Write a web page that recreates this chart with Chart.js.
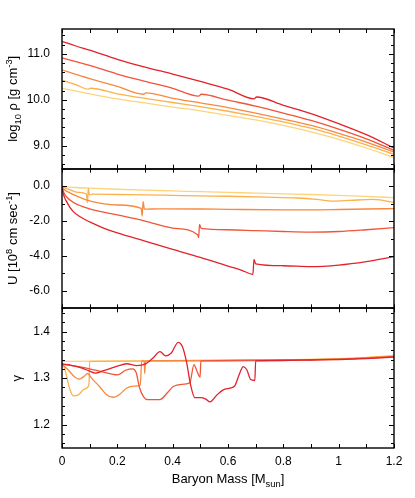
<!DOCTYPE html>
<html>
<head>
<meta charset="utf-8">
<script src="https://cdn.jsdelivr.net/npm/chart.js@4/dist/chart.umd.min.js"></script>
<style>
  html, body { margin: 0; padding: 0; background: #fff; }
  canvas { display: block; }
</style>
</head>
<body>
<canvas id="chart" width="415" height="498"></canvas>
<script>
// [baryon mass, value] pairs, one array per run
// log10 density
const rhoA = [[0,11.27],[0.05,11.17],[0.1,11.08],[0.2,10.88],[0.3,10.71],[0.4,10.56],[0.5,10.40],[0.6,10.23],[0.695,10.02],[0.703,10.06],[0.8,9.88],[0.9,9.70],[1.0,9.48],[1.1,9.24],[1.2,8.95]];
const rhoB = [[0,10.91],[0.05,10.83],[0.1,10.75],[0.2,10.56],[0.3,10.40],[0.4,10.25],[0.495,10.08],[0.503,10.12],[0.6,9.99],[0.7,9.86],[0.8,9.71],[0.9,9.55],[1.0,9.36],[1.1,9.15],[1.2,8.90]];
const rhoC = [[0,10.65],[0.05,10.55],[0.1,10.46],[0.2,10.29],[0.295,10.12],[0.303,10.15],[0.4,10.03],[0.5,9.93],[0.6,9.83],[0.7,9.71],[0.8,9.58],[0.9,9.44],[1.0,9.27],[1.1,9.08],[1.2,8.86]];
const rhoD = [[0,10.43],[0.05,10.33],[0.095,10.23],[0.103,10.25],[0.2,10.13],[0.3,10.03],[0.4,9.94],[0.5,9.85],[0.6,9.75],[0.7,9.64],[0.8,9.52],[0.9,9.38],[1.0,9.21],[1.1,9.02],[1.2,8.81]];
const rhoE = [[0,10.25],[0.1,10.13],[0.2,10.02],[0.3,9.93],[0.4,9.84],[0.5,9.76],[0.6,9.66],[0.7,9.56],[0.8,9.44],[0.9,9.30],[1.0,9.14],[1.1,8.95],[1.2,8.74]];

// velocity, 10^8 cm/s
const velA = [[0,0],[0.004,-0.4],[0.017,-0.9],[0.04,-1.45],[0.07,-1.8],[0.1,-2.05],[0.15,-2.4],[0.2,-2.68],[0.3,-3.15],[0.4,-3.62],[0.5,-4.08],[0.6,-4.58],[0.65,-4.82],[0.69,-5.05],[0.694,-4.2],[0.7,-4.45],[0.8,-4.56],[0.9,-4.61],[1.0,-4.52],[1.1,-4.32],[1.2,-4.04]];
const velB = [[0,0],[0.005,-0.32],[0.029,-0.8],[0.06,-1.08],[0.1,-1.3],[0.2,-1.65],[0.3,-2.0],[0.4,-2.4],[0.49,-2.78],[0.494,-2.95],[0.497,-2.19],[0.503,-2.42],[0.6,-2.5],[0.7,-2.55],[0.8,-2.6],[0.9,-2.63],[1.0,-2.6],[1.1,-2.5],[1.2,-2.38]];
const velC = [[0,0],[0.005,-0.15],[0.03,-0.4],[0.06,-0.62],[0.1,-0.85],[0.2,-1.08],[0.286,-1.27],[0.29,-1.71],[0.293,-0.89],[0.298,-1.32],[0.35,-1.3],[0.5,-1.31],[0.6,-1.33],[0.8,-1.36],[0.9,-1.36],[1.0,-1.34],[1.1,-1.31],[1.2,-1.29]];
const velD = [[0,-0.02],[0.01,-0.1],[0.03,-0.22],[0.06,-0.36],[0.088,-0.45],[0.092,-0.95],[0.095,-0.13],[0.099,-0.5],[0.11,-0.46],[0.2,-0.48],[0.3,-0.5],[0.4,-0.53],[0.5,-0.56],[0.6,-0.58],[0.74,-0.63],[0.85,-0.68],[0.92,-0.76],[0.98,-0.86],[1.04,-0.82],[1.12,-0.76],[1.15,-0.79],[1.2,-0.95]];
const velE = [[0,-0.02],[0.05,-0.08],[0.1,-0.12],[0.2,-0.18],[0.3,-0.23],[0.4,-0.27],[0.5,-0.32],[0.6,-0.36],[0.7,-0.40],[0.8,-0.44],[0.9,-0.48],[1.0,-0.53],[1.1,-0.59],[1.2,-0.66]];

// adiabatic index
const gamA = [[0,1.33],[0.03,1.328],[0.07,1.322],[0.1,1.315],[0.12,1.311],[0.15,1.316],[0.2,1.326],[0.234,1.331],[0.27,1.327],[0.3,1.33],[0.33,1.344],[0.354,1.357],[0.375,1.348],[0.395,1.354],[0.42,1.377],[0.435,1.368],[0.45,1.335],[0.465,1.285],[0.48,1.258],[0.5,1.258],[0.52,1.255],[0.535,1.249],[0.56,1.264],[0.583,1.275],[0.61,1.279],[0.625,1.284],[0.642,1.31],[0.655,1.325],[0.668,1.318],[0.682,1.297],[0.697,1.295],[0.7,1.337],[0.8,1.338],[0.9,1.339],[1.0,1.34],[1.1,1.342],[1.2,1.345]];
const gamB = [[0,1.33],[0.05,1.326],[0.1,1.32],[0.15,1.313],[0.2,1.307],[0.23,1.317],[0.255,1.32],[0.268,1.312],[0.28,1.28],[0.295,1.26],[0.31,1.254],[0.354,1.254],[0.38,1.268],[0.402,1.282],[0.44,1.287],[0.462,1.29],[0.477,1.329],[0.488,1.315],[0.499,1.302],[0.502,1.337],[0.7,1.338],[0.9,1.34],[1.0,1.341],[1.1,1.343],[1.2,1.346]];
const gamC = [[0,1.33],[0.022,1.318],[0.045,1.303],[0.062,1.298],[0.08,1.304],[0.092,1.31],[0.11,1.298],[0.137,1.281],[0.16,1.265],[0.185,1.259],[0.21,1.266],[0.234,1.279],[0.26,1.283],[0.283,1.285],[0.288,1.337],[0.297,1.337],[0.299,1.31],[0.302,1.337],[0.5,1.338],[0.8,1.339],[1.0,1.341],[1.2,1.347]];
const gamD = [[0,1.333],[0.01,1.32],[0.029,1.275],[0.041,1.262],[0.059,1.264],[0.077,1.275],[0.09,1.279],[0.098,1.29],[0.1,1.336],[0.4,1.337],[0.8,1.339],[1.0,1.341],[1.2,1.348]];
const gamE = [[0,1.336],[0.4,1.337],[0.8,1.339],[1.0,1.342],[1.1,1.344],[1.2,1.349]];

// labelled ticks on each axis
const rhoTicks = [9, 10, 11];
const velTicks = [-6, -4, -2, 0];
const gamTicks = [1.2, 1.3, 1.4];
const massTicks = [0, 0.2, 0.4, 0.6, 0.8, 1, 1.2];

const colors = ['#e3222a', '#f0553a', '#f7893f', '#fbb14d', '#fdd47c'];
const FONT = '"Liberation Sans", Arial, Helvetica, sans-serif';

const toPts = arr => arr.map(p => ({ x: p[0], y: p[1] }));

const datasets = [];
[[rhoA, rhoB, rhoC, rhoD, rhoE, 'yRho'],
 [velA, velB, velC, velD, velE, 'yVel'],
 [gamA, gamB, gamC, gamD, gamE, 'yGam']].forEach(group => {
  const axis = group[5];
  for (let i = 0; i < 5; i++) {
    datasets.push({
      data: toPts(group[i]),
      yAxisID: axis,
      borderColor: colors[i],
      borderWidth: 1.3,
      pointRadius: 0,
      fill: false,
      cubicInterpolationMode: 'monotone'
    });
  }
});

// minor tick step for each panel
const minorStep = { yRho: 0.2, yVel: 1, yGam: 0.02 };

// axis titles with sub/superscripts
const titles = {
  yRho: [['log'], ['10', 'sub'], [' \u03c1 [g cm'], ['-3', 'sup'], [']']],
  yVel: [['U [10'], ['8', 'sup'], [' cm sec'], ['-1', 'sup'], [']']],
  yGam: [['\u03b3']]
};
const xTitle = [['Baryon Mass [M'], ['sun', 'sub'], [']']];

function drawRich(ctx, parts, x, y, rotate, size) {
  ctx.save();
  ctx.translate(x, y);
  if (rotate) ctx.rotate(-Math.PI / 2);
  ctx.fillStyle = '#000';
  ctx.textBaseline = 'alphabetic';
  ctx.textAlign = 'left';
  let total = 0;
  parts.forEach(p => {
    ctx.font = (p[1] ? size * 0.72 : size) + 'px ' + FONT;
    total += ctx.measureText(p[0]).width;
  });
  let cx = -total / 2;
  parts.forEach(p => {
    ctx.font = (p[1] ? size * 0.72 : size) + 'px ' + FONT;
    const dy = p[1] === 'sub' ? size * 0.3 : p[1] === 'sup' ? -size * 0.42 : 0;
    ctx.fillText(p[0], cx, dy);
    cx += ctx.measureText(p[0]).width;
  });
  ctx.restore();
}

const framePlugin = {
  id: 'frames',
  afterDraw(chart) {
    const ctx = chart.ctx;
    const area = chart.chartArea;
    const xs = chart.scales.x;
    ctx.save();
    ctx.strokeStyle = '#000';
    ctx.lineWidth = 1;
    const line = (x1, y1, x2, y2) => {
      ctx.beginPath();
      ctx.moveTo(x1, y1);
      ctx.lineTo(x2, y2);
      ctx.stroke();
    };
    ['yRho', 'yVel', 'yGam'].forEach(id => {
      const ys = chart.scales[id];
      const step = minorStep[id];
      const start = Math.ceil(ys.min / step - 1e-6);
      const end = Math.floor(ys.max / step + 1e-6);
      for (let k = start; k <= end; k++) {
        const v = k * step;
        const py = Math.round(ys.getPixelForValue(v)) + 0.5;
        const major = ys.ticks.some(t => Math.abs(t.value - v) < 1e-6);
        const len = major ? 5 : 3;
        line(area.left, py, area.left + len, py);
        line(area.right, py, area.right - len, py);
      }
      for (let k = 0; k <= 12; k++) {
        const px = Math.round(xs.getPixelForValue(k / 10)) + 0.5;
        line(px, ys.top, px, ys.top + 4);
        line(px, ys.bottom, px, ys.bottom - 4);
      }
      ctx.lineWidth = 1.4;
      ctx.strokeRect(area.left, Math.round(ys.top), area.right - area.left, Math.round(ys.bottom) - Math.round(ys.top));
      ctx.lineWidth = 1;
      const cy = (ys.top + ys.bottom) / 2;
      drawRich(ctx, titles[id], id === 'yGam' ? 21 : 17, cy, true, 13);
    });
    drawRich(ctx, xTitle, (area.left + area.right) / 2, 483, false, 13);
    ctx.restore();
  }
};

function yScale(min, max, ticks, weight) {
  return {
    type: 'linear',
    position: 'left',
    stack: 'panels',
    stackWeight: 1,
    weight: weight,
    min: min,
    max: max,
    grid: { display: false, drawTicks: false },
    border: { display: false },
    afterBuildTicks: s => { s.ticks = ticks.map(v => ({ value: v })); },
    afterFit: s => { s.width = 62; },
    ticks: {
      padding: 12,
      color: '#000',
      font: { family: FONT, size: 12 },
      callback: v => v.toFixed(1)
    }
  };
}

new Chart(document.getElementById('chart'), {
  type: 'line',
  data: { datasets: datasets },
  options: {
    responsive: false,
    animation: false,
    events: [],
    layout: { padding: { top: 29, right: 21, left: 0, bottom: 0 } },
    plugins: { legend: { display: false }, tooltip: { enabled: false } },
    scales: {
      x: {
        type: 'linear',
        position: 'bottom',
        min: 0,
        max: 1.2,
        grid: { display: false, drawTicks: false },
        border: { display: false },
        afterBuildTicks: s => { s.ticks = massTicks.map(v => ({ value: v })); },
        afterFit: s => { s.height = 50; },
        ticks: {
          padding: 6,
          color: '#000',
          maxRotation: 0,
          font: { family: FONT, size: 12 },
          callback: v => String(Number(v.toFixed(1)))
        }
      },
      yRho: yScale(8.5, 11.54, rhoTicks, 3),
      yVel: yScale(-7, 1, velTicks, 2),
      yGam: yScale(1.15, 1.45, gamTicks, 1)
    }
  },
  plugins: [framePlugin]
});
</script>
</body>
</html>
